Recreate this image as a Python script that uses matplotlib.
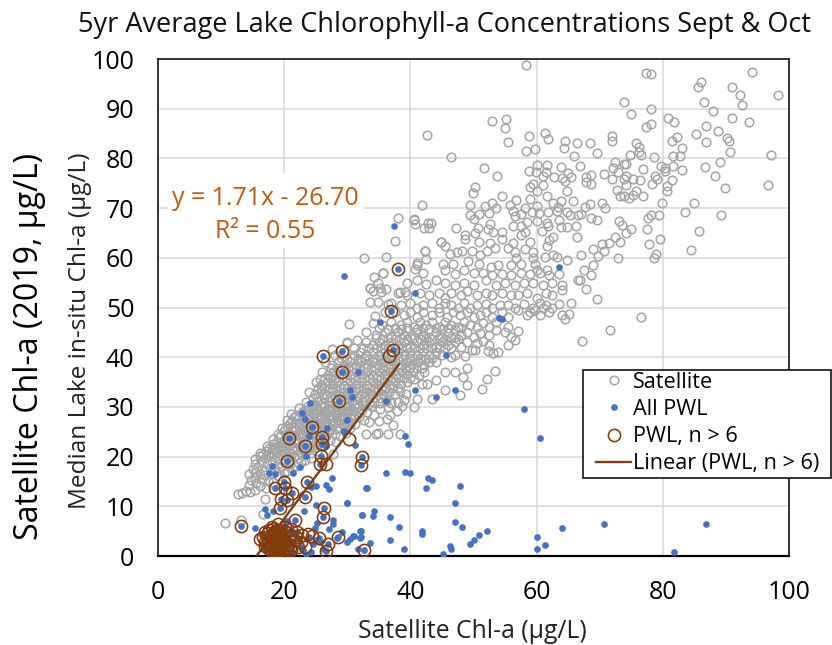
import matplotlib
matplotlib.use("Agg")
import matplotlib.pyplot as plt
from matplotlib.patches import Rectangle

plt.rcParams["font.family"] = ["Open Sans", "DejaVu Sans"]

# Values, (x, y)
sat_top = [
    (58.3,98.8),(77.4,97.1),(78.2,97.0),(94.2,97.4),(86.1,95.3),(85.5,94.4),(90.9,94.4),(92.2,92.7),(98.3,92.7),
    (92.5,90.7),(86.5,91.4),(73.9,91.4),(78.1,89.9),(75.0,88.9),(88.0,89.5),(80.9,88.2),(81.8,87.4),(90.9,88.2),
    (93.7,87.4),(53.0,87.6),(55.1,88.0),(55.0,86.2),(78.1,87.0),(77.3,86.3),(86.8,86.5),(88.7,85.5),(85.3,85.0),
    (42.7,84.7),(55.4,83.3),(58.8,84.5),(61.3,85.1),(61.8,84.0),(64.5,83.5),(66.4,83.1),(68.4,83.0),(72.0,84.5),
    (72.0,83.5),(75.7,83.1),(76.2,82.3),(82.2,84.4),(81.5,83.5),(83.1,82.1),(90.2,84.2),(90.5,83.5),(86.8,83.3),
    (90.6,81.3),(58.3,81.5),(59.7,81.9),(64.3,82.0),(69.5,81.1),(65.9,80.5),(76.2,81.3),(76.5,80.7),(74.8,80.7),
    (78.6,80.3),(81.6,80.5),(82.7,80.5),(97.2,80.6),(46.4,80.3),(72.4,79.3),(73.8,78.9),(74.1,78.9),(89.0,79.3),
    (60.1,78.6),(61.7,78.6),(63.8,78.3),(66.8,78.4),(79.7,78.5),(80.3,78.1),(81.6,78.4),(86.7,78.3),(83.0,77.6),
    (51.7,78.0),(72.1,78.0),(76.9,77.8),(80.4,77.4),(53.7,76.4),(58.8,77.5),(59.9,77.3),(61.5,77.3),(61.0,76.4),
    (62.7,76.3),(65.0,77.0),(65.5,76.3),(68.7,76.6),(67.8,76.2),(70.7,76.8),(72.9,77.2),(74.1,76.4),(72.0,75.8),
    (73.8,75.8),(75.2,75.8),(76.4,75.6),(78.7,76.4),(79.1,75.8),(88.2,76.4),(81.5,75.6),(64.1,76.0),(64.5,75.4),
    (67.9,75.3),(78.3,74.8),(80.6,74.4),(74.1,74.6),(68.7,74.8),(59.5,74.8),(61.0,74.6),(50.2,74.3),(59.0,74.3),
    (89.8,74.1),(96.7,74.6),(60.1,73.4),(80.6,73.4),(49.9,73.1),(64.8,73.4),(72.8,73.6),(75.7,73.4),
]
sat_upper = [
    (61.6,72.5),(54.5,72.4),(73.2,72.4),(73.8,72.4),(74.6,72.0),(75.3,72.6),(76.8,72.4),(58.9,71.8),(63.8,71.5),
    (56.8,71.6),(65.7,71.4),(79.8,71.1),(84.9,71.1),(70.4,71.1),(62.6,71.1),(52.9,71.1),(49.5,70.7),(41.8,70.6),
    (51.8,70.5),(55.8,70.6),(68.4,70.8),(67.6,70.3),(63.4,70.3),(53.6,70.1),(58.2,70.1),(60.1,70.4),(70.8,70.1),
    (56.3,69.4),(83.5,69.3),(52.4,69.1),(50.8,68.9),(59.2,69.3),(60.4,69.1),(61.8,69.3),(63.2,69.4),(64.8,69.3),
    (57.6,68.9),(89.2,68.7),(79.4,68.6),(78.1,68.6),(77.6,68.0),(49.5,68.6),(56.6,68.4),(65.3,68.6),(66.6,68.6),
    (67.1,68.9),(68.7,68.0),(69.5,67.7),(50.0,67.8),(40.5,67.8),(40.7,66.9),(42.8,67.1),(43.2,67.0),(42.2,66.0),
    (43.0,66.0),(47.3,66.0),(50.7,66.0),(52.6,66.9),(58.4,67.2),(60.0,67.4),(61.6,67.0),(63.6,67.6),(73.0,67.4),
    (73.6,66.6),(56.2,66.4),(57.5,66.4),(61.8,66.4),(63.9,66.2),(64.8,66.2),(66.2,66.4),(38.0,68.0),(40.6,67.6),
    (77.5,65.7),(75.0,65.7),(85.7,65.4),(60.9,65.4),(52.3,65.7),(53.1,65.2),(54.5,65.2),(58.2,65.2),(48.6,64.6),
    (50.2,65.0),(74.2,64.9),(57.6,64.6),(62.6,64.2),(66.4,64.2),(72.4,64.2),(48.7,63.8),(54.5,63.7),(79.5,63.7),
    (62.0,63.5),(44.8,63.2),(50.9,63.2),(52.6,62.9),(56.2,63.0),(59.0,63.2),(73.2,63.2),(71.5,63.0),(70.3,62.7),
    (77.8,62.7),(61.6,62.4),(45.5,62.3),(53.4,61.9),(55.5,62.0),(69.0,61.7),(70.7,61.3),(84.4,61.5),(56.6,61.2),
    (58.2,61.7),(42.3,61.3),(47.4,61.2),(48.1,61.3),(49.7,61.3),(52.1,61.3),(59.5,61.2),(46.3,60.7),(67.0,60.5),
    (69.8,60.3),(79.0,60.7),(78.6,60.0),(72.9,60.0),(61.3,60.1),(62.6,60.5),(63.2,60.2),(64.8,59.5),(42.5,59.7),
    (51.0,60.5),(56.8,59.9),(59.5,59.9),(37.6,63.4),(42.3,61.4),(32.6,60.0),(36.1,60.2),(44.8,63.2),(41.0,58.6),
    (35.6,57.0),(34.2,56.2),(33.6,54.0),(35.6,56.9),(33.6,53.9),(34.1,53.4),(35.2,53.9),(36.2,53.7),(34.9,54.9),
    (35.4,53.2),(33.6,51.2),(34.9,51.2),(36.5,50.8),(30.3,46.7),(34.4,48.2),(27.5,41.7),(38.4,53.2),(39.1,53.2),
    (41.1,58.9),(40.7,57.8),(45.1,58.7),(46.8,58.8),(49.2,59.4),(50.9,58.8),(52.7,58.2),(53.9,58.5),(55.9,58.5),
    (57.5,58.8),(59.7,58.8),(61.6,57.5),(60.0,57.5),(69.0,58.5),(67.5,57.6),(68.7,56.6),(66.6,55.6),(67.9,53.8),
    (69.5,51.8),(65.5,51.0),(65.2,48.6),(64.5,47.6),(76.5,48.1),(71.7,45.4),(67.2,43.2),
]
sat_mid = [
    (42,57),(45.5,57.5),(47,56.8),(48.5,57.5),(50,57),(51.5,57),(53,56.5),(54.5,56.8),(56,56.5),(57.5,57),(59,56.8),
    (60.5,57),(62,56.5),(63.5,56.8),(39.5,55),(41,55.5),(42.5,54.8),(44,55.5),(45.5,55),(47,54.5),(48.5,55),(50,54.5),
    (52,55.5),(53.5,54.5),(55,55),(56.5,54.5),(58,55),(59.5,55),(61,54.5),(62.5,55),(64,54.5),(66.8,55.5),
    (38,53),(39.5,52.5),(41.5,53),(43,52.5),(44.5,53),(45.5,52),(46.5,53),(48,52.5),(49,53.3),(50.5,52.5),(52,53),
    (53,52.5),(54.5,53),(56,52.5),(57,52.5),(58.5,53),(60,52),(61.5,53),(62.5,52.5),(64,53.5),
    (37,51),(38.5,50.5),(40,51),(41,50),(42,50.5),(43.5,51),(44.5,50),(45.5,51),(46.5,50.5),(47.5,50),(48.5,51),
    (49.5,50),(50.5,50.5),(52,50.8),(53,50),(54.2,50.5),(55.5,50.5),(56.5,50),(58,50.8),(59.5,50),(60.5,51),(61.5,50.5),
    (62.5,50),(63.5,50.8),(36,49),(37.5,49),(39,48.5),(40,49),(41,48),(42,49),(43.5,48.5),(44.5,49),(45.8,48),(46.8,49),
    (47.8,48.5),(49,49),(50,48),(51,48.5),(52,49),(53,48),(54.5,49),(55.5,48),(57,49.5),(58.5,48.5),(59,49),(59.8,49.5),
    (60.5,48.5),(61,49.8),(62,49),(64,48.5),(34,46.8),(35.5,46.5),(37,47),(38.5,46.5),(39.5,47),(40.5,46),(41.5,47),
    (42.5,46.5),(43.5,47),(44.5,46),(45.5,47),(46.5,46.5),(47.5,46),(48.5,47),(49.5,46.5),(50.5,46),(51.5,46.8),(52.5,46),
    (53.5,47),(55.5,46),(33,45),(34.5,44.5),(36,45),(37,44),(38,45),(39,44.5),(40,44),(41,45),(42,44.5),(43,44),(44,45),
    (45,44),(46,44.8),(47,44),(48,44.5),(49,45),(50,44),(51,44.8),(52.5,44.5),(53.5,45.5),(55,45),(56,44),(57,45.2),
    (30,43),(31.5,43.5),(33,43),(34,42.5),(35,43),(36,42.5),(37,43),(38,42.5),(39,43),(40,42),(41,43),(42,42.5),(43,43),
    (44,42),(45,43),(46,42.5),(47,43),(48,42),(49,43),(50.5,42.8),(51.5,43.2),(52.5,42.5),(55.5,42.5),(56.5,43.5),
    (48.9,37.9),(53.4,37.2),(48.4,36),(52.1,35.7),(48.9,34.4),(51.3,33.6),(47.9,32.4),(45.5,33.3),(41.1,31.6),(43.4,31.6),
    (40.6,30),(42.6,34.6),(41.8,34.6),(40.5,35.7),(44.1,35.5),(45.5,37.1),(47.1,37.1),(48.6,40.2),(46.5,40.1),(47.1,40.4),
    (49.7,41.4),(50.2,41.4),(52.3,41.2),(53.1,40.8),(53.9,41.1),
]
sat_band = [
    (10.6,6.7),(13.2,7.2),(16.7,8.4),(17,11.4),(12.6,12.4),(13.3,12.6),(13.9,13),(14.6,12.9),(15.4,13.3),(14.4,14.2),
    (15.6,14.6),(16.2,14.1),(17.1,13.7),(14.7,15.3),(15.4,15.8),(16.5,15.4),(17.4,15.1),(18.3,14.8),(14.5,16.4),(15.3,16.9),
    (16.1,16.5),(17,16.2),(18,16.8),(19,16.1),(19.9,16.6),(15,17.5),(15.9,17.9),(16.8,17.4),(17.7,17.8),(18.6,17.5),
    (19.5,17.9),(20.4,17.2),(21.2,17.7),(15.4,18.6),(16.3,18.9),(17.2,18.5),(18.1,19),(19,18.6),(20,18.9),(20.9,18.5),
    (21.8,18.2),(22.7,18.9),(15.4,19.5),(16.1,20.1),(17,19.8),(17.9,20.2),(18.8,19.7),(19.7,20.3),(20.6,19.8),(21.5,20.2),
    (22.4,19.7),(23.3,19.3),(24.2,19.8),(16.2,20.8),(17.1,21.1),(18,21.5),(18.9,21),(19.8,21.4),(20.7,20.9),(21.6,21.3),
    (22.5,20.9),(23.4,21.2),(24.3,20.7),(25.2,21.1),(17.3,22.2),(18.2,22.6),(19.1,22.1),(20,22.7),(20.9,22.3),(21.8,22.7),
    (22.7,22.2),(23.6,22.6),(24.5,22.1),(25.4,22.6),(26.3,22.3),(27.8,20.6),(18.3,23.5),(19.2,23.9),(20.1,23.4),(21,23.9),
    (21.9,23.5),(22.8,23.9),(23.7,23.4),(24.6,23.8),(25.5,23.3),(26.4,23.8),(27.3,23.3),(28.2,23),(19,24.6),(19.9,25.1),
    (20.8,24.7),(21.7,25.2),(22.6,24.8),(23.5,25.2),(24.4,24.7),(25.3,25.1),(26.2,24.6),(27.1,25),(28,24.6),(28.9,24.2),
    (29.8,24.8),(33,24.5),(34.6,24.5),(34.8,24.7),(36.5,24.5),(38.3,24.5),(19.6,25.8),(20.5,26.2),(21.4,25.9),(22.3,26.3),
    (23.2,25.9),(24.1,26.3),(25,25.8),(25.9,26.3),(26.8,25.9),(27.7,26.3),(28.6,25.8),(29.5,26.2),(30.4,25.7),(37.3,26.3),
    (20.4,27.4),(21.3,27.1),(22.2,27.5),(23.1,27),(24,27.5),(24.9,27.1),(25.8,27.5),(26.7,27),(27.6,27.4),(28.5,27),
    (29.4,27.5),(30.3,27.1),(31.2,26.6),(33.5,26.9),(35.1,27.2),(36.3,27.6),(21,28.5),(21.9,28.2),(22.8,28.6),(23.7,28.3),
    (24.6,28.7),(25.5,28.2),(26.4,28.6),(27.3,28.1),(28.2,28.6),(29.1,28.2),(30,28.7),(30.9,28.3),(31.8,27.9),(32.7,27.4),
    (34.3,28.3),(36.7,28.4),(37.8,29.1),(22.4,29.8),(23.3,29.4),(24.2,29.9),(25.1,29.5),(26,29.9),(26.9,29.4),(27.8,29.8),
    (28.7,29.4),(29.6,29.9),(30.5,29.4),(31.4,29.8),(32.3,29.4),(33.2,28.9),(35.2,29.6),(36.4,29.9),(38.6,30.1),
    (23.5,31),(24.4,30.6),(25.3,31.1),(26.2,30.7),(27.1,31.2),(28,30.8),(28.9,31.2),(29.8,30.7),(30.7,31.1),(31.6,30.6),
    (32.5,31.1),(33.4,30.6),(34.3,31),(35.2,30.7),(36.1,31.2),(37,30.8),(38,31),(39,31.4),(24,33),(24.9,32.5),(25.8,33.1),
    (26.7,32.6),(27.6,33.1),(28.5,32.5),(29.4,33),(30.3,32.6),(31.2,33.1),(32.1,32.6),(33,33),(33.9,32.5),(34.8,33.1),
    (35.7,32.6),(36.6,33),(37.5,32.5),(38.4,33.1),(39.3,32.6),(25,35),(25.9,34.5),(26.8,35.1),(27.7,34.6),(28.6,35),
    (29.5,34.5),(30.4,35.1),(31.3,34.6),(32.2,35),(33.1,34.5),(34,35.1),(34.9,34.6),(35.8,35),(36.7,34.5),(37.6,35.1),
    (38.5,34.6),(39.4,35),(25.7,35.7),(26,37),(26.9,36.5),(27.8,37.1),(28.7,36.6),(29.6,37),(30.5,36.5),(31.4,37.1),
    (32.3,36.6),(33.2,37),(34.1,36.5),(35,37.1),(35.9,36.6),(36.8,37),(37.7,36.5),(38.6,37.1),(39.5,36.6),(40.4,37),
    (41.3,36.5),(42.2,37),(26.5,39),(27.5,38.5),(28.5,39),(29.5,38.5),(30.4,39),(31.3,38.5),(32.2,39.1),(33.1,38.6),
    (34,39),(34.9,38.5),(35.8,39.1),(36.7,38.6),(37.6,39),(38.5,38.5),(39.4,39.1),(40.3,38.6),(41.2,39),(42.1,38.5),
    (43,39.1),(44,39),(28,40.5),(29.5,41),(31,40.5),(32,41),(33,40.5),(34,41),(35,40.5),(36,41),(37,40.5),(38,41),
    (39,40.5),(40,41),(41,40.5),(42,41),(43,40.5),(44,41),(45,40.5),(29.9,42.8),
]
# second pass over the solid part of the band
sat_dense = [
    (16.6,20.5),(17.5,20.4),(18.4,20.6),(19.3,20.5),(20.2,20.5),(21.1,20.5),(22,20.4),(17.6,21.7),(18.5,21.8),(19.4,21.7),
    (20.3,21.8),(21.2,21.7),(22.1,21.7),(23,21.7),(23.9,21.8),(18.8,23),(19.7,23),(20.6,23),(21.5,23),(22.4,23),(23.3,23),
    (24.2,23),(25.1,23),(19.5,24.3),(20.4,24.3),(21.3,24.3),(22.2,24.3),(23.1,24.3),(24,24.3),(24.9,24.3),(25.8,24.3),
    (26.7,24.2),(20.1,25.5),(21,25.5),(21.9,25.6),(22.8,25.5),(23.7,25.6),(24.6,25.5),(25.5,25.6),(26.4,25.5),(27.3,25.6),
    (28.2,25.5),(20.9,26.8),(21.8,26.8),(22.7,26.7),(23.6,26.8),(24.5,26.7),(25.4,26.8),(26.3,26.7),(27.2,26.8),(28.1,26.7),
    (29,26.8),(29.9,26.7),(21.5,27.9),(22.4,28),(23.3,27.9),(24.2,28),(25.1,27.9),(26,28),(26.9,27.9),(27.8,28),(28.7,27.9),
    (29.6,28),(30.5,27.9),(22.8,29),(23.7,29.1),(24.6,29),(25.5,29.1),(26.4,29),(27.3,29.1),(28.2,29),(29.1,29.1),(30,29),
    (30.9,29.1),(31.8,29),(23.8,30.2),(24.7,30.2),(25.6,30.3),(26.5,30.2),(27.4,30.3),(28.3,30.2),(29.2,30.3),(30.1,30.2),
    (31,30.3),(31.9,30.2),(32.8,30.3),(33.7,30.2),(24.5,31.8),(25.4,31.9),(26.3,31.8),(27.2,31.9),(28.1,31.8),(29,31.9),
    (29.9,31.8),(30.8,31.9),(31.7,31.8),(32.6,31.9),(33.5,31.8),(34.4,31.9),(35.3,31.8),(36.2,31.9),(25.4,33.8),(26.3,33.9),
    (27.2,33.8),(28.1,33.9),(29,33.8),(29.9,33.9),(30.8,33.8),(31.7,33.9),(32.6,33.8),(33.5,33.9),(34.4,33.8),(35.3,33.9),
    (36.2,33.8),(37.1,33.9),(38,33.8),(26.4,35.8),(27.3,35.9),(28.2,35.8),(29.1,35.9),(30,35.8),(30.9,35.9),(31.8,35.8),
    (32.7,35.9),(33.6,35.8),(34.5,35.9),(35.4,35.8),(36.3,35.9),(37.2,35.8),(38.1,35.9),(39,35.8),(39.9,35.9),(27.4,37.8),
    (28.3,37.9),(29.2,37.8),(30.1,37.9),(31,37.8),(31.9,37.9),(32.8,37.8),(33.7,37.9),(34.6,37.8),(35.5,37.9),(36.4,37.8),
    (37.3,37.9),(38.2,37.8),(39.1,37.9),(40,37.8),(40.9,37.9),(41.8,37.8),(29,39.8),(29.9,39.7),(30.8,39.8),(31.7,39.7),
    (32.6,39.8),(33.5,39.7),(34.4,39.8),(35.3,39.7),(36.2,39.8),(37.1,39.7),(38,39.8),(38.9,39.7),(39.8,39.8),(40.7,39.7),
    (41.6,39.8),(42.5,39.7),(43.4,39.8),(31,41.8),(32.5,41.9),(33.5,41.8),(34.5,41.9),(35.5,41.8),(36.5,41.9),(37.5,41.8),
    (38.5,41.9),(39.5,41.8),(40.5,41.9),(41.5,41.8),(42.5,41.9),(43.5,41.8),(44.5,41.9),(45.5,41.8),(46.5,41.9),(34.5,43.8),
    (35.5,43.7),(36.5,43.8),(37.5,43.7),(38.5,43.8),(39.5,43.7),(40.5,43.8),(41.5,43.7),(42.5,43.8),(43.5,43.7),(44.5,43.8),
    (45.5,43.7),(46.5,43.8),(47.5,43.7),(35,45.8),(36.5,45.7),(37.5,45.8),(38.5,45.7),(39.5,45.8),(41,45.7),(42,45.8),(43,45.7),
    (44,45.8),(45,45.7),(46,45.8),(47,45.7),(48,45.8),
]

pwl_x = [
    29.4,37.4,40.7,35.2,54.1,45.6,40.7,47.0,44.1,36.1,31.7,30.4,30.7,63.6,54.5,58.0,60.5,39.2,39.6,36.2,39.2,40.0,42.8,43.5,
    42.4,47.9,33.1,30.0,47.1,34.2,34.0,32.3,36.8,47.1,48.1,38.2,41.9,41.9,32.1,52.1,50.9,50.0,49.5,64.1,70.7,86.8,81.8,
    60.0,61.3,60.1,36.8,39.0,46.3,46.4,45.2,32.1,31.0,30.4,29.9,33.6,31.7,29.1,30.0,29.4,31.2,24.1,22.8,23.3,30.0,26.8,
    29.4,24.0,26.7,23.4,22.5,21.4,18.0,17.6,18.5,27.6,26.6,25.1,24.2,27.1,33.0,30.0,25.1,23.1,17.0,17.2,18.3,32.3,27.8,
    25.2,27.7,27.1,15.4,32.0,32.0,30.9,28.3,25.1,26.2,21.4,23.5,23.0,19.2,20.6,22.3,24.6,16.5,17.8,21.1,22.7,24.9,18.9,
    16.9,20.1,23.9,19.6,21.7,18.4,17.3,24.3,25.7,20.4,38.0,37.0,26.2,29.2,29.1,28.7,37.3,24.4,20.8,23.3,26.0,26.0,20.4,
    32.4,32.1,25.8,25.7,23.6,19.9,18.5,20.1,21.2,23.3,19.5,20.5,19.3,26.3,26.2,13.2,21.7,32.6,28.6,25.5,27.0,26.6,22.0,
]
pwl_y = [
    56.3,66.4,53.0,47.1,47.8,40.4,33.4,33.4,31.9,31.2,37.1,33.4,31.9,58.1,47.7,29.6,23.7,24.1,22.5,16.8,17.0,16.8,15.7,15.2,
    13.7,14.1,13.7,10.6,10.6,9.0,8.0,8.3,7.9,6.8,5.9,5.9,5.1,4.4,5.0,5.1,4.2,3.2,2.4,5.6,6.5,6.5,0.8,
    3.8,2.2,1.4,3.2,1.5,2.1,1.4,0.4,3.8,4.0,3.4,2.9,2.7,1.5,4.9,27.4,25.0,22.3,30.7,28.8,27.5,27.3,25.7,
    25.1,24.1,22.1,20.2,18.0,16.8,18.1,16.8,16.5,15.6,14.3,14.1,13.9,13.5,13.6,10.6,10.2,9.1,9.4,8.2,9.1,8.2,7.2,
    6.7,6.5,5.5,5.7,5.1,3.7,4.0,3.7,3.2,1.5,0.8,0.5,1.2,1.0,2.1,3.5,2.4,4.3,2.9,5.2,1.9,5.6,0.7,
    1.9,6.1,3.9,0.9,4.4,5.6,3.4,0.9,2.9,7.0,57.7,49.2,40.2,41.3,37.1,31.2,41.4,26.0,23.8,22.2,23.9,22.6,19.1,
    20.0,18.3,20.1,18.6,14.9,14.9,13.6,13.6,12.6,11.9,11.4,11.2,9.6,9.6,7.9,6.0,7.2,1.2,3.9,3.7,2.5,1.0,4.9,
]
ring_x = [
    38.0,37.0,26.2,29.2,29.1,28.7,37.3,36.6,24.4,20.8,23.3,26.0,26.0,30.2,20.4,32.4,32.1,25.8,25.7,26.6,23.6,19.9,18.5,20.1,
    21.2,23.3,19.5,20.5,19.3,26.3,26.2,13.2,21.7,32.6,28.6,25.5,27.0,26.6,23.3,23.8,22.0,19.0,18.1,18.8,19.4,20.2,17.4,
    16.6,16.1,17.9,18.6,19.7,20.9,21.5,17.2,18.3,19.1,20.0,18.5,19.3,20.4,17.8,18.9,19.6,16.9,18.2,19.0,20.7,22.6,21.1,
    19.8,18.7,17.6,18.4,19.2,24.4,22.2,18.0,18.5,19.0,19.5,20.0,17.5,18.2,18.8,19.4,20.0,20.6,17.8,18.4,19.0,19.6,20.2,
    18.1,18.7,19.3,19.9,17.0,17.6,18.2,18.8,19.4,20.0,21.0,21.8,22.9,16.9,17.5,18.6,19.2,19.8,20.3,20.9,
]
ring_y = [
    57.7,49.2,40.2,41.3,37.1,31.2,41.4,40.2,26.0,23.8,22.2,23.9,22.6,23.5,19.1,20.0,18.3,20.1,18.6,18.5,14.9,14.9,13.6,13.6,
    12.6,11.9,11.4,11.2,9.6,9.6,7.9,6.0,7.2,1.2,3.9,3.7,2.5,1.0,1.8,4.5,4.9,6.5,5.8,5.2,4.7,5.9,4.6,
    3.9,3.4,3.7,3.2,3.9,4.3,3.2,2.7,2.3,2.9,2.6,1.8,1.6,1.9,1.4,1.1,0.8,2.1,4.3,3.6,2.5,2.9,1.2,
    0.6,0.5,3.0,4.9,2.0,4.1,1.9,2.6,3.1,2.2,3.4,1.5,3.6,3.9,3.3,3.8,3.1,2.2,2.1,1.3,1.8,2.4,1.0,
    0.9,2.8,1.2,2.9,4.9,5.2,5.5,4.4,5.3,4.1,5.4,3.8,4.3,2.9,1.7,0.8,4.6,0.4,4.9,1.6,
]
trend_x = [15.6, 38.2]
trend_y = [0.0, 38.6]

x_ticks = [0, 20, 40, 60, 80, 100]
y_ticks = [0, 10, 20, 30, 40, 50, 60, 70, 80, 90, 100]

GRIS = "#A5A5A5"
AZUL = "#4472C4"
MARROM = "#843C0C"

sat_points = sat_top + sat_upper + sat_mid + sat_band + sat_dense
sat_x = [p[0] for p in sat_points]
sat_y = [p[1] for p in sat_points]

W, H = 832, 645
fig = plt.figure(figsize=(W / 100, H / 100), dpi=100)
ax = fig.add_axes([158 / W, 1 - 556 / H, (789 - 158) / W, (556 - 59) / H])

ax.plot(sat_x, sat_y, ls="none", marker="o", ms=6.2, mfc="none", mec=GRIS, mew=1.1, label="Satellite", zorder=3)
ax.plot(pwl_x, pwl_y, ls="none", marker="o", ms=4.8, mfc=AZUL, mec=AZUL, mew=0, label="All PWL", zorder=4)
ax.plot(ring_x, ring_y, ls="none", marker="o", ms=8.8, mfc="none", mec=MARROM, mew=1.15, label="PWL, n > 6", zorder=5)
ax.plot(trend_x, trend_y, color=MARROM, lw=1.7, label="Linear (PWL, n > 6)", zorder=6)

ax.set_xlim(0, 100)
ax.set_ylim(0, 100)
ax.set_xticks(x_ticks)
ax.set_yticks(y_ticks)
ax.tick_params(length=0, labelsize=18, pad=17, labelcolor="black")
ax.grid(True, color="#D9D9D9", lw=1.1, zorder=0)
ax.set_axisbelow(True)
for lado in ax.spines.values():
    lado.set_linewidth(1.1)
    lado.set_color("black")
ax.spines["bottom"].set_linewidth(1.6)

fig.text(472 / W, 1 - 632 / H, "Satellite Chl-a (µg/L)", fontsize=17.8, ha="center", va="center", color="#222222")
fig.text(80 / W, 1 - 331 / H, "Median Lake in-situ Chl-a (µg/L)", rotation=90, fontsize=17.6,
         ha="center", va="center", color="#222222")
fig.text(30 / W, 1 - 346 / H, "Satellite Chl-a (2019, µg/L)", rotation=90, fontsize=23.1,
         ha="center", va="center", color="black")
fig.text(444 / W, 1 - 25 / H, "5yr Average Lake Chlorophyll-a Concentrations Sept & Oct", fontsize=19.5,
         ha="center", va="center", color="#111111")

# caixa branca da equacao, igual ao rotulo do Excel
ax.add_patch(Rectangle((168 / W, 1 - 248 / H), 196 / W, 75 / H, transform=fig.transFigure,
                       facecolor="white", edgecolor="none", zorder=2))
ax.text(17.0, 68.7, "y = 1.71x - 26.70\nR² = 0.55", color="#C55A11", fontsize=17.9, ha="center", va="center",
        linespacing=1.42, zorder=7)

# moldura da legenda, passa da borda direita do grafico
ax.add_patch(Rectangle((583 / W, 1 - 478 / H), 248 / W, 108 / H, transform=fig.transFigure, clip_on=False,
                       facecolor="white", edgecolor="black", lw=1.1, zorder=9))
leg = ax.legend(loc="upper left", bbox_to_anchor=(596 / W, 1 - 372 / H), bbox_transform=fig.transFigure,
                frameon=False, fontsize=15.6, borderaxespad=0, borderpad=0, labelspacing=0.28,
                handlelength=1.62, handletextpad=0.08)
leg.set_zorder(10)

fig.savefig("out.png", dpi=100)
